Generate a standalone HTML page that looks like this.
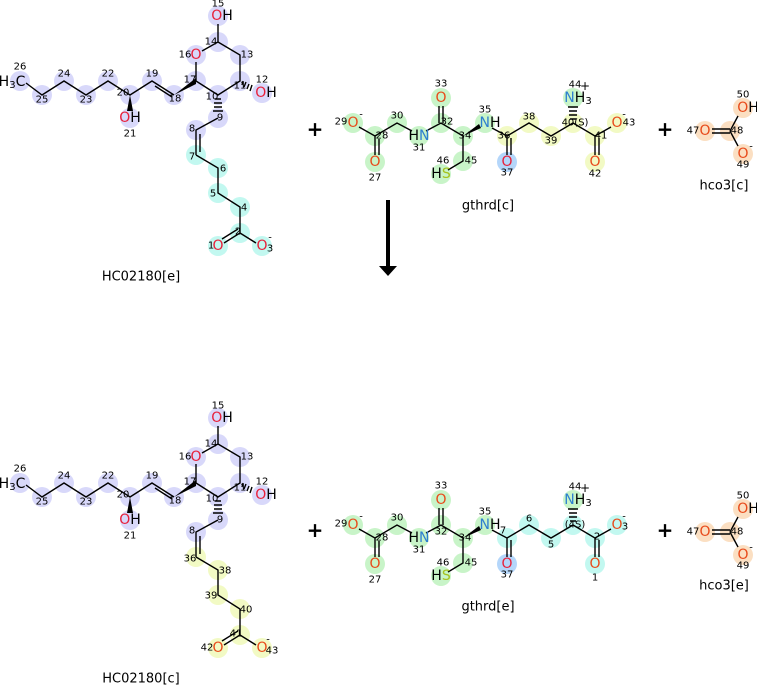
<!DOCTYPE html>
<html><head><meta charset="utf-8"><style>
html,body{margin:0;padding:0;background:#fff;width:757px;height:685px;overflow:hidden}
svg{display:block;font-family:"DejaVu Sans","Liberation Sans",sans-serif}
.n{font-size:10px;fill:#000;text-anchor:middle;dominant-baseline:central}
.a{font-size:14px;text-anchor:middle;dominant-baseline:central}
.o{fill:#e8203a}.oo{fill:#e84a1a}.N{fill:#2e7fd0}.S{fill:#a6c21e}.k{fill:#000}
.lbl{font-size:13px;fill:#000;text-anchor:middle;dominant-baseline:central}
.b{stroke:#000;stroke-width:1.4;fill:none}
.P{fill:#d8d8fa}.C{fill:#c2f8f0}.G{fill:#c8f4c8}.Y{fill:#f2fac4}.B{fill:#b4d6fa}.R{fill:#fbdfc2}
</style></head><body>
<svg width="757" height="685" viewBox="0 0 757 685" xmlns="http://www.w3.org/2000/svg">
<defs>
<g id="hcb">
<path class="b" d="M26,83 L42,95 L64,81 L86,95 L108,81 L130,95 L152,81 L174,95 M155,86 L172,97 M196,81 L196,62 M202,51 L218,42 L218,24 M218,42 L240,55 L240,81 L218,95 L196,81 M218,118 L196,130 L196,155 M200,134 L200,152 M196,155 L218,168 L218,193 L240,207 L240,233 L224,243 M238,229 L222,239 M240,233 L256,243"/>
<polygon points="174,95 196,78 196,84" fill="#000"/>
<polygon points="130,95 127,111 133,111" fill="#000"/>
<path class="b" stroke-width="1.2" d="M243,81 L242,85 M246,82 L244,87 M249,84 L247,89 M252,85 L250,91 M221,99 L215,99 M222,103 L214,103 M222,107 L214,107 M223,111 L213,111"/>
</g>
<g id="gtb">
<path class="b" d="M359,127 L375,136 L375,155 M379,139 L379,155 M375,136 L397,123 L412,131 M426,131 L441,123 L463,136 M439,123 L439,106 M443,123 L443,106 M463,136 L463,161 L448,170 M492,128 L507,136 L507,155 M511,138 L511,155 M507,136 L529,123 L551,136 L573,123 L595,136 L595,155 M599,138 L599,155 M595,136 L611,127"/>
<polygon points="463,136 479,124 481,128" fill="#000"/>
<path class="b" stroke-width="1.2" d="M570,119 L576,119 M569,115 L577,115 M569,111 L577,111 M568,107 L578,107"/>
</g>
<g id="hcob">
<path class="b" d="M712,129 L730,129 M712,133 L730,133 M730,131 L738,116 M730,131 L738,146"/>
</g>
</defs>

<g>
<circle class="P" cx="20" cy="81" r="10"/><circle class="P" cx="42" cy="95" r="10"/><circle class="P" cx="64" cy="81" r="10"/><circle class="P" cx="86" cy="95" r="10"/><circle class="P" cx="108" cy="81" r="10"/><circle class="P" cx="130" cy="95" r="10"/><circle class="P" cx="130" cy="118" r="10"/><circle class="P" cx="152" cy="81" r="10"/><circle class="P" cx="174" cy="95" r="10"/><circle class="P" cx="196" cy="81" r="10"/><circle class="P" cx="196" cy="55" r="10"/><circle class="P" cx="218" cy="42" r="10"/><circle class="P" cx="218" cy="16" r="10"/><circle class="P" cx="240" cy="55" r="10"/><circle class="P" cx="240" cy="81" r="10"/><circle class="P" cx="262" cy="93" r="10"/><circle class="P" cx="218" cy="95" r="10"/><circle class="P" cx="218" cy="118" r="10"/><circle class="P" cx="196" cy="130" r="10"/>
<circle class="C" cx="196" cy="155" r="10"/><circle class="C" cx="218" cy="168" r="10"/><circle class="C" cx="218" cy="193" r="10"/><circle class="C" cx="240" cy="207" r="10"/><circle class="C" cx="240" cy="233" r="10"/><circle class="C" cx="218" cy="246" r="10"/><circle class="C" cx="262" cy="246" r="10"/>
<use href="#hcb"/>
<text class="a k" x="12" y="82">H<tspan font-size="10" dy="3">3</tspan><tspan dy="-3">C</tspan></text>
<text class="n" x="20" y="67">26</text><text class="n" x="42" y="100">25</text><text class="n" x="64" y="74">24</text><text class="n" x="86" y="100">23</text><text class="n" x="108" y="74">22</text><text class="n" x="123" y="93">20</text>
<text class="a o" x="130" y="118">O<tspan class="k">H</tspan></text><text class="n" x="130" y="134">21</text>
<text class="n" x="152" y="74">19</text><text class="n" x="175" y="99">18</text><text class="n" x="190" y="80">17</text>
<text class="a o" x="196" y="55">O</text><text class="n" x="185" y="55">16</text><text class="n" x="211" y="42">14</text>
<text class="a o" x="222" y="16">O<tspan class="k">H</tspan></text><text class="n" x="218" y="4">15</text>
<text class="n" x="247" y="55">13</text><text class="n" x="240" y="86">11</text>
<text class="a o" x="266" y="93">O<tspan class="k">H</tspan></text><text class="n" x="262" y="80">12</text>
<text class="n" x="212" y="97">10</text><text class="n" x="220" y="118">9</text><text class="n" x="192" y="129">8</text><text class="n" x="192" y="157">7</text><text class="n" x="223" y="169">6</text><text class="n" x="213" y="194">5</text><text class="n" x="244" y="208">4</text><text class="n" x="238" y="232">2</text>
<text class="a o" x="218" y="246">O</text><text class="n" x="211" y="246">1</text>
<text class="a o" x="262" y="246">O</text><text class="n" x="270" y="249">3</text><text class="n" x="270" y="238">-</text>
<text class="lbl" x="141" y="277">HC02180[e]</text>
</g>

<g transform="translate(0,402)">
<circle class="P" cx="20" cy="81" r="10"/><circle class="P" cx="42" cy="95" r="10"/><circle class="P" cx="64" cy="81" r="10"/><circle class="P" cx="86" cy="95" r="10"/><circle class="P" cx="108" cy="81" r="10"/><circle class="P" cx="130" cy="95" r="10"/><circle class="P" cx="130" cy="118" r="10"/><circle class="P" cx="152" cy="81" r="10"/><circle class="P" cx="174" cy="95" r="10"/><circle class="P" cx="196" cy="81" r="10"/><circle class="P" cx="196" cy="55" r="10"/><circle class="P" cx="218" cy="42" r="10"/><circle class="P" cx="218" cy="16" r="10"/><circle class="P" cx="240" cy="55" r="10"/><circle class="P" cx="240" cy="81" r="10"/><circle class="P" cx="262" cy="93" r="10"/><circle class="P" cx="218" cy="95" r="10"/><circle class="P" cx="218" cy="118" r="10"/><circle class="P" cx="196" cy="130" r="10"/>
<circle class="Y" cx="196" cy="155" r="10"/><circle class="Y" cx="218" cy="168" r="10"/><circle class="Y" cx="218" cy="193" r="10"/><circle class="Y" cx="240" cy="207" r="10"/><circle class="Y" cx="240" cy="233" r="10"/><circle class="Y" cx="218" cy="246" r="10"/><circle class="Y" cx="262" cy="246" r="10"/>
<use href="#hcb"/>
<text class="a k" x="12" y="82">H<tspan font-size="10" dy="3">3</tspan><tspan dy="-3">C</tspan></text>
<text class="n" x="20" y="67">26</text><text class="n" x="42" y="100">25</text><text class="n" x="64" y="74">24</text><text class="n" x="86" y="100">23</text><text class="n" x="108" y="74">22</text><text class="n" x="123" y="93">20</text>
<text class="a o" x="130" y="118">O<tspan class="k">H</tspan></text><text class="n" x="130" y="134">21</text>
<text class="n" x="152" y="74">19</text><text class="n" x="175" y="99">18</text><text class="n" x="190" y="80">17</text>
<text class="a o" x="196" y="55">O</text><text class="n" x="185" y="55">16</text><text class="n" x="211" y="42">14</text>
<text class="a o" x="222" y="16">O<tspan class="k">H</tspan></text><text class="n" x="218" y="4">15</text>
<text class="n" x="247" y="55">13</text><text class="n" x="240" y="86">11</text>
<text class="a o" x="266" y="93">O<tspan class="k">H</tspan></text><text class="n" x="262" y="80">12</text>
<text class="n" x="212" y="97">10</text><text class="n" x="220" y="118">9</text><text class="n" x="192" y="129">8</text><text class="n" x="190" y="157">36</text><text class="n" x="225" y="169">38</text><text class="n" x="211" y="194">39</text><text class="n" x="246" y="208">40</text><text class="n" x="236" y="232">41</text>
<text class="a oo" x="218" y="246">O</text><text class="n" x="207" y="246">42</text>
<text class="a oo" x="262" y="246">O</text><text class="n" x="272" y="249">43</text><text class="n" x="268" y="238">-</text>
<text class="lbl" x="141" y="277">HC02180[c]</text>
</g>

<text x="315" y="129" font-size="20" font-weight="bold" text-anchor="middle" dominant-baseline="central">+</text>
<text x="665" y="129" font-size="20" font-weight="bold" text-anchor="middle" dominant-baseline="central">+</text>
<text x="315" y="530" font-size="20" font-weight="bold" text-anchor="middle" dominant-baseline="central">+</text>
<text x="665" y="530" font-size="20" font-weight="bold" text-anchor="middle" dominant-baseline="central">+</text>

<rect x="386" y="200" width="4" height="68" fill="#000"/>
<polygon points="379,266 397,266 388,276" fill="#000"/>

<g>
<circle class="G" cx="353" cy="123" r="10"/><circle class="G" cx="375" cy="136" r="10"/><circle class="G" cx="375" cy="162" r="10"/><circle class="G" cx="397" cy="123" r="10"/><circle class="G" cx="419" cy="136" r="10"/><circle class="G" cx="441" cy="123" r="10"/><circle class="G" cx="441" cy="98" r="10"/><circle class="G" cx="463" cy="136" r="10"/><circle class="G" cx="485" cy="123" r="10"/><circle class="G" cx="463" cy="161" r="10"/><circle class="G" cx="441" cy="174" r="10"/><circle class="G" cx="573" cy="98" r="10"/>
<circle class="Y" cx="507" cy="136" r="10"/><circle class="Y" cx="529" cy="123" r="10"/><circle class="Y" cx="551" cy="136" r="10"/><circle class="Y" cx="573" cy="123" r="10"/><circle class="Y" cx="595" cy="136" r="10"/><circle class="Y" cx="595" cy="162" r="10"/><circle class="Y" cx="617" cy="123" r="10"/>
<circle class="B" cx="507" cy="162" r="10"/>
<use href="#gtb"/>
<text class="a oo" x="353" y="123">O</text><text class="n" x="341" y="122">29</text><text class="n" x="361" y="115">-</text>
<text class="n" x="382" y="136">28</text><text class="a oo" x="375" y="162">O</text><text class="n" x="375" y="178">27</text>
<text class="n" x="397" y="116">30</text>
<text class="a N" x="419" y="136"><tspan class="k">H</tspan>N</text><text class="n" x="419" y="148">31</text>
<text class="n" x="447" y="122">32</text><text class="a oo" x="441" y="98">O</text><text class="n" x="441" y="84">33</text>
<text class="n" x="465" y="136">34</text>
<text class="a N" x="490" y="123">N<tspan class="k">H</tspan></text><text class="n" x="485" y="110">35</text>
<text class="n" x="471" y="161">45</text><text class="a S" x="441" y="174"><tspan class="k">H</tspan>S</text><text class="n" x="443" y="161">46</text>
<text class="n" x="504" y="136">36</text><text class="a o" x="507" y="162">O</text><text class="n" x="507" y="173">37</text>
<text class="n" x="529" y="117">38</text><text class="n" x="551" y="141">39</text><text class="n" x="575" y="123">40(S)</text>
<text class="a N" x="578" y="98">N<tspan class="k">H</tspan><tspan class="k" font-size="10" dy="3">3</tspan></text><text class="n" x="575" y="85">44</text><text class="k" x="585" y="90" font-size="12" text-anchor="middle">+</text>
<text class="n" x="601" y="136">41</text><text class="a oo" x="595" y="162">O</text><text class="n" x="595" y="174">42</text>
<text class="a oo" x="617" y="123">O</text><text class="n" x="629" y="123">43</text><text class="n" x="624" y="115">-</text>
<text class="lbl" x="488" y="206">gthrd[c]</text>
</g>

<g transform="translate(0,402)">
<circle class="G" cx="353" cy="123" r="10"/><circle class="G" cx="375" cy="136" r="10"/><circle class="G" cx="375" cy="162" r="10"/><circle class="G" cx="397" cy="123" r="10"/><circle class="G" cx="419" cy="136" r="10"/><circle class="G" cx="441" cy="123" r="10"/><circle class="G" cx="441" cy="98" r="10"/><circle class="G" cx="463" cy="136" r="10"/><circle class="G" cx="485" cy="123" r="10"/><circle class="G" cx="463" cy="161" r="10"/><circle class="G" cx="441" cy="174" r="10"/><circle class="G" cx="573" cy="98" r="10"/>
<circle class="C" cx="507" cy="136" r="10"/><circle class="C" cx="529" cy="123" r="10"/><circle class="C" cx="551" cy="136" r="10"/><circle class="C" cx="573" cy="123" r="10"/><circle class="C" cx="595" cy="136" r="10"/><circle class="C" cx="595" cy="162" r="10"/><circle class="C" cx="617" cy="123" r="10"/>
<circle class="B" cx="507" cy="162" r="10"/>
<use href="#gtb"/>
<text class="a oo" x="353" y="123">O</text><text class="n" x="341" y="122">29</text><text class="n" x="361" y="115">-</text>
<text class="n" x="382" y="136">28</text><text class="a oo" x="375" y="162">O</text><text class="n" x="375" y="178">27</text>
<text class="n" x="397" y="116">30</text>
<text class="a N" x="419" y="136"><tspan class="k">H</tspan>N</text><text class="n" x="419" y="148">31</text>
<text class="n" x="441" y="130">32</text><text class="a oo" x="441" y="98">O</text><text class="n" x="441" y="84">33</text>
<text class="n" x="465" y="136">34</text>
<text class="a N" x="490" y="123">N<tspan class="k">H</tspan></text><text class="n" x="485" y="110">35</text>
<text class="n" x="471" y="161">45</text><text class="a S" x="441" y="174"><tspan class="k">H</tspan>S</text><text class="n" x="443" y="161">46</text>
<text class="n" x="503" y="129">7</text><text class="a o" x="507" y="162">O</text><text class="n" x="507" y="173">37</text>
<text class="n" x="529" y="117">6</text><text class="n" x="551" y="143">5</text><text class="n" x="575" y="123">(4S)</text>
<text class="a N" x="578" y="98">N<tspan class="k">H</tspan><tspan class="k" font-size="10" dy="3">3</tspan></text><text class="n" x="575" y="85">44</text><text class="k" x="585" y="90" font-size="12" text-anchor="middle">+</text>
<text class="n" x="597" y="135">2</text><text class="a oo" x="595" y="162">O</text><text class="n" x="595" y="176">1</text>
<text class="a oo" x="617" y="123">O</text><text class="n" x="625" y="125">3</text><text class="n" x="624" y="115">-</text>
<text class="lbl" x="488" y="205">gthrd[e]</text>
</g>

<g>
<circle class="R" cx="705" cy="131" r="10"/><circle class="R" cx="730" cy="131" r="10"/><circle class="R" cx="743" cy="108" r="10"/><circle class="R" cx="743" cy="154" r="10"/>
<use href="#hcob"/>
<text class="a oo" x="705" y="131">O</text><text class="n" x="693" y="131">47</text><text class="n" x="737" y="131">48</text>
<text class="a oo" x="748" y="108">O<tspan class="k">H</tspan></text><text class="n" x="743" y="95">50</text>
<text class="a oo" x="743" y="154">O</text><text class="n" x="751" y="147">-</text><text class="n" x="743" y="165">49</text>
<text class="lbl" x="724" y="186">hco3[c]</text>
</g>
<g transform="translate(0,401)">
<circle class="R" cx="705" cy="131" r="10"/><circle class="R" cx="730" cy="131" r="10"/><circle class="R" cx="743" cy="108" r="10"/><circle class="R" cx="743" cy="154" r="10"/>
<use href="#hcob"/>
<text class="a oo" x="705" y="131">O</text><text class="n" x="693" y="131">47</text><text class="n" x="737" y="131">48</text>
<text class="a oo" x="748" y="108">O<tspan class="k">H</tspan></text><text class="n" x="743" y="95">50</text>
<text class="a oo" x="743" y="154">O</text><text class="n" x="751" y="147">-</text><text class="n" x="743" y="165">49</text>
<text class="lbl" x="724" y="185">hco3[e]</text>
</g>
</svg>
</body></html>
